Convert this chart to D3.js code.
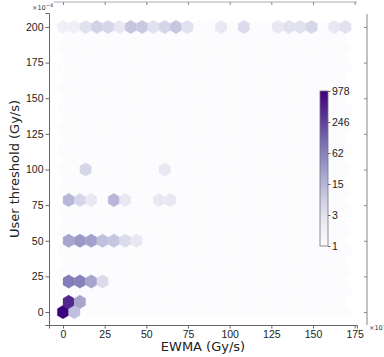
<!DOCTYPE html>
<html>
<head>
<meta charset="utf-8">
<script src="https://cdn.jsdelivr.net/npm/d3@7"></script>
<style>
  body { margin: 0; background: #fff; }
  svg { font-family: "DejaVu Sans", sans-serif; }
</style>
</head>
<body>
<svg id="chart" width="384" height="357"></svg>
<script>
// hexbin grid (matplotlib-style, gridsize 25), EWMA in units of 1e-4 Gy/s
const gridSize = 25;
const ewmaExtent = [0, 169.5];
const thresholdExtent = [0, 200];

// non-empty bins: [EWMA bin centre, threshold bin centre, count]
const hexBins = [
  [0, 0, 978], [6.78, 0, 11],
  [3.39, 7.14, 430], [10.17, 7.14, 23],
  [3.39, 21.43, 70], [10.17, 21.43, 60], [16.95, 21.43, 23], [23.73, 21.43, 4],
  [3.39, 50, 23], [10.17, 50, 33], [16.95, 50, 26], [23.73, 50, 11],
  [30.51, 50, 9], [37.29, 50, 4], [44.07, 50, 2],
  [3.39, 78.57, 14], [10.17, 78.57, 5], [16.95, 78.57, 2],
  [30.51, 78.57, 14], [37.29, 78.57, 2], [57.63, 78.57, 2], [64.41, 78.57, 2],
  [13.56, 100, 5], [61.02, 100, 2],
  [0, 200, 1], [6.78, 200, 1], [13.56, 200, 3], [20.34, 200, 6], [27.12, 200, 5],
  [33.9, 200, 2], [40.68, 200, 9], [47.46, 200, 8], [54.24, 200, 3],
  [61.02, 200, 5], [67.8, 200, 9], [74.58, 200, 3], [94.92, 200, 2],
  [108.48, 200, 4], [128.82, 200, 2], [135.6, 200, 3], [142.38, 200, 3],
  [149.16, 200, 5], [162.72, 200, 2], [169.5, 200, 3]
];

const xTicks = [0, 25, 50, 75, 100, 125, 150, 175];
const yTicks = [0, 25, 50, 75, 100, 125, 150, 175, 200];
const cbarLabels = [1, 3, 15, 62, 246, 978];
const maxCount = 978;

const svg = d3.select('#chart');

const x = d3.scaleLinear().domain([-8.4, 176.4]).range([49, 357]);
const y = d3.scaleLinear().domain([-9.1, 209.8]).range([325, 13]);

const colour = (c) => d3.interpolatePurples(Math.log10(c + 1) / Math.log10(maxCount + 1));

// hex lattice
const nx = gridSize;
const ny = Math.floor(gridSize / Math.sqrt(3));
const sx = (ewmaExtent[1] - ewmaExtent[0]) / nx;
const sy = (thresholdExtent[1] - thresholdExtent[0]) / ny;

function hexPath(cx, cy) {
  const pts = [[0.5, -0.5], [0.5, 0.5], [0, 1], [-0.5, 0.5], [-0.5, -0.5], [0, -1]]
    .map(([dx, dy]) => [x(cx + dx * sx), y(cy + dy * sy / 3)]);
  return 'M' + pts.map((p) => p.join(',')).join('L') + 'Z';
}

const lattice = [];
for (let i = 0; i <= nx; i++) {
  for (let j = 0; j <= ny; j++) {
    lattice.push([ewmaExtent[0] + i * sx, thresholdExtent[0] + j * sy]);
  }
}
for (let i = 0; i < nx; i++) {
  for (let j = 0; j < ny; j++) {
    lattice.push([ewmaExtent[0] + (i + 0.5) * sx, thresholdExtent[0] + (j + 0.5) * sy]);
  }
}

const g = svg.append('g');

g.selectAll('path.bg')
  .data(lattice)
  .enter()
  .append('path')
  .attr('class', 'bg')
  .attr('d', (d) => hexPath(d[0], d[1]))
  .attr('fill', colour(0))
  .attr('stroke', colour(0))
  .attr('stroke-width', 0.3);

g.selectAll('path.bin')
  .data(hexBins)
  .enter()
  .append('path')
  .attr('class', 'bin')
  .attr('d', (d) => hexPath(d[0], d[1]))
  .attr('fill', (d) => colour(d[2]))
  .attr('stroke', (d) => colour(d[2]))
  .attr('stroke-width', 0.3);

// axes
const xAxis = d3.axisBottom(x).tickValues(xTicks).tickSize(3.5).tickPadding(2);
const yAxis = d3.axisLeft(y).tickValues(yTicks).tickSize(3.5).tickPadding(2);

const gx = svg.append('g').attr('transform', 'translate(0,325)').call(xAxis);
const gy = svg.append('g').attr('transform', 'translate(49,0)').call(yAxis);

[gx, gy].forEach((ax) => {
  ax.select('.domain').attr('stroke', '#666').attr('stroke-width', 1);
  ax.selectAll('.tick line').attr('stroke', '#666');
  ax.selectAll('.tick text').attr('fill', '#222').style('font-size', '10.5px');
});

// marginal axes lines (top and right), ticks only
const topAxis = d3.axisBottom(x).tickValues(xTicks).tickSize(3).tickFormat('');
svg.append('g')
  .attr('transform', 'translate(0,2)')
  .call(topAxis)
  .call((a) => a.select('.domain').attr('d', `M${x(-5.5)},0H${x(176.4)}`).attr('stroke', '#aaa'))
  .call((a) => a.selectAll('.tick line').attr('stroke', '#888'));

const rightAxis = d3.axisLeft(y).tickValues(yTicks).tickSize(3).tickFormat('');
svg.append('g')
  .attr('transform', 'translate(367,0)')
  .call(rightAxis)
  .call((a) => a.select('.domain').attr('d', `M0,${y(209)}V${y(-9.1)}`).attr('stroke', '#888'))
  .call((a) => a.selectAll('.tick line').attr('stroke', '#888'));

// axis labels
svg.append('text')
  .attr('x', 203)
  .attr('y', 351)
  .attr('text-anchor', 'middle')
  .style('font-size', '13px')
  .attr('fill', '#222')
  .text('EWMA (Gy/s)');

svg.append('text')
  .attr('transform', 'translate(19,169) rotate(-90)')
  .attr('text-anchor', 'middle')
  .style('font-size', '13px')
  .attr('fill', '#222')
  .text('User threshold (Gy/s)');

// offset texts
function offsetText(px, py) {
  const t = svg.append('text')
    .attr('x', px)
    .attr('y', py)
    .style('font-size', '6.5px')
    .attr('fill', '#333');
  t.append('tspan').text('×10');
  t.append('tspan').attr('dy', -3).style('font-size', '5px').text('−4');
}
offsetText(32, 10);
offsetText(369, 330);

// colorbar
const cbX = 320, cbW = 8, cbTop = 91, cbBottom = 246;
const defs = svg.append('defs');
const grad = defs.append('linearGradient')
  .attr('id', 'cbgrad')
  .attr('x1', 0).attr('y1', 1).attr('x2', 0).attr('y2', 0);
d3.range(0, 1.0001, 0.05).forEach((t) => {
  grad.append('stop').attr('offset', t).attr('stop-color', d3.interpolatePurples(t));
});

svg.append('rect')
  .attr('x', cbX)
  .attr('y', cbTop)
  .attr('width', cbW)
  .attr('height', cbBottom - cbTop)
  .attr('fill', 'url(#cbgrad)')
  .attr('stroke', '#777')
  .attr('stroke-width', 0.8);

const cbScale = d3.scaleLog().domain([1, maxCount]).range([cbBottom, cbTop]);
const cbTickPos = cbarLabels.map((v, i) => Math.pow(maxCount, i / (cbarLabels.length - 1)));
const cbAxis = d3.axisRight(cbScale)
  .tickValues(cbTickPos)
  .tickFormat((d, i) => cbarLabels[i])
  .tickSize(2.5)
  .tickPadding(1.5);

svg.append('g')
  .attr('transform', `translate(${cbX + cbW},0)`)
  .call(cbAxis)
  .call((a) => a.select('.domain').remove())
  .call((a) => a.selectAll('.tick line').attr('stroke', '#666'))
  .call((a) => a.selectAll('.tick text').attr('fill', '#222').style('font-size', '10.5px'));
</script>
</body>
</html>
